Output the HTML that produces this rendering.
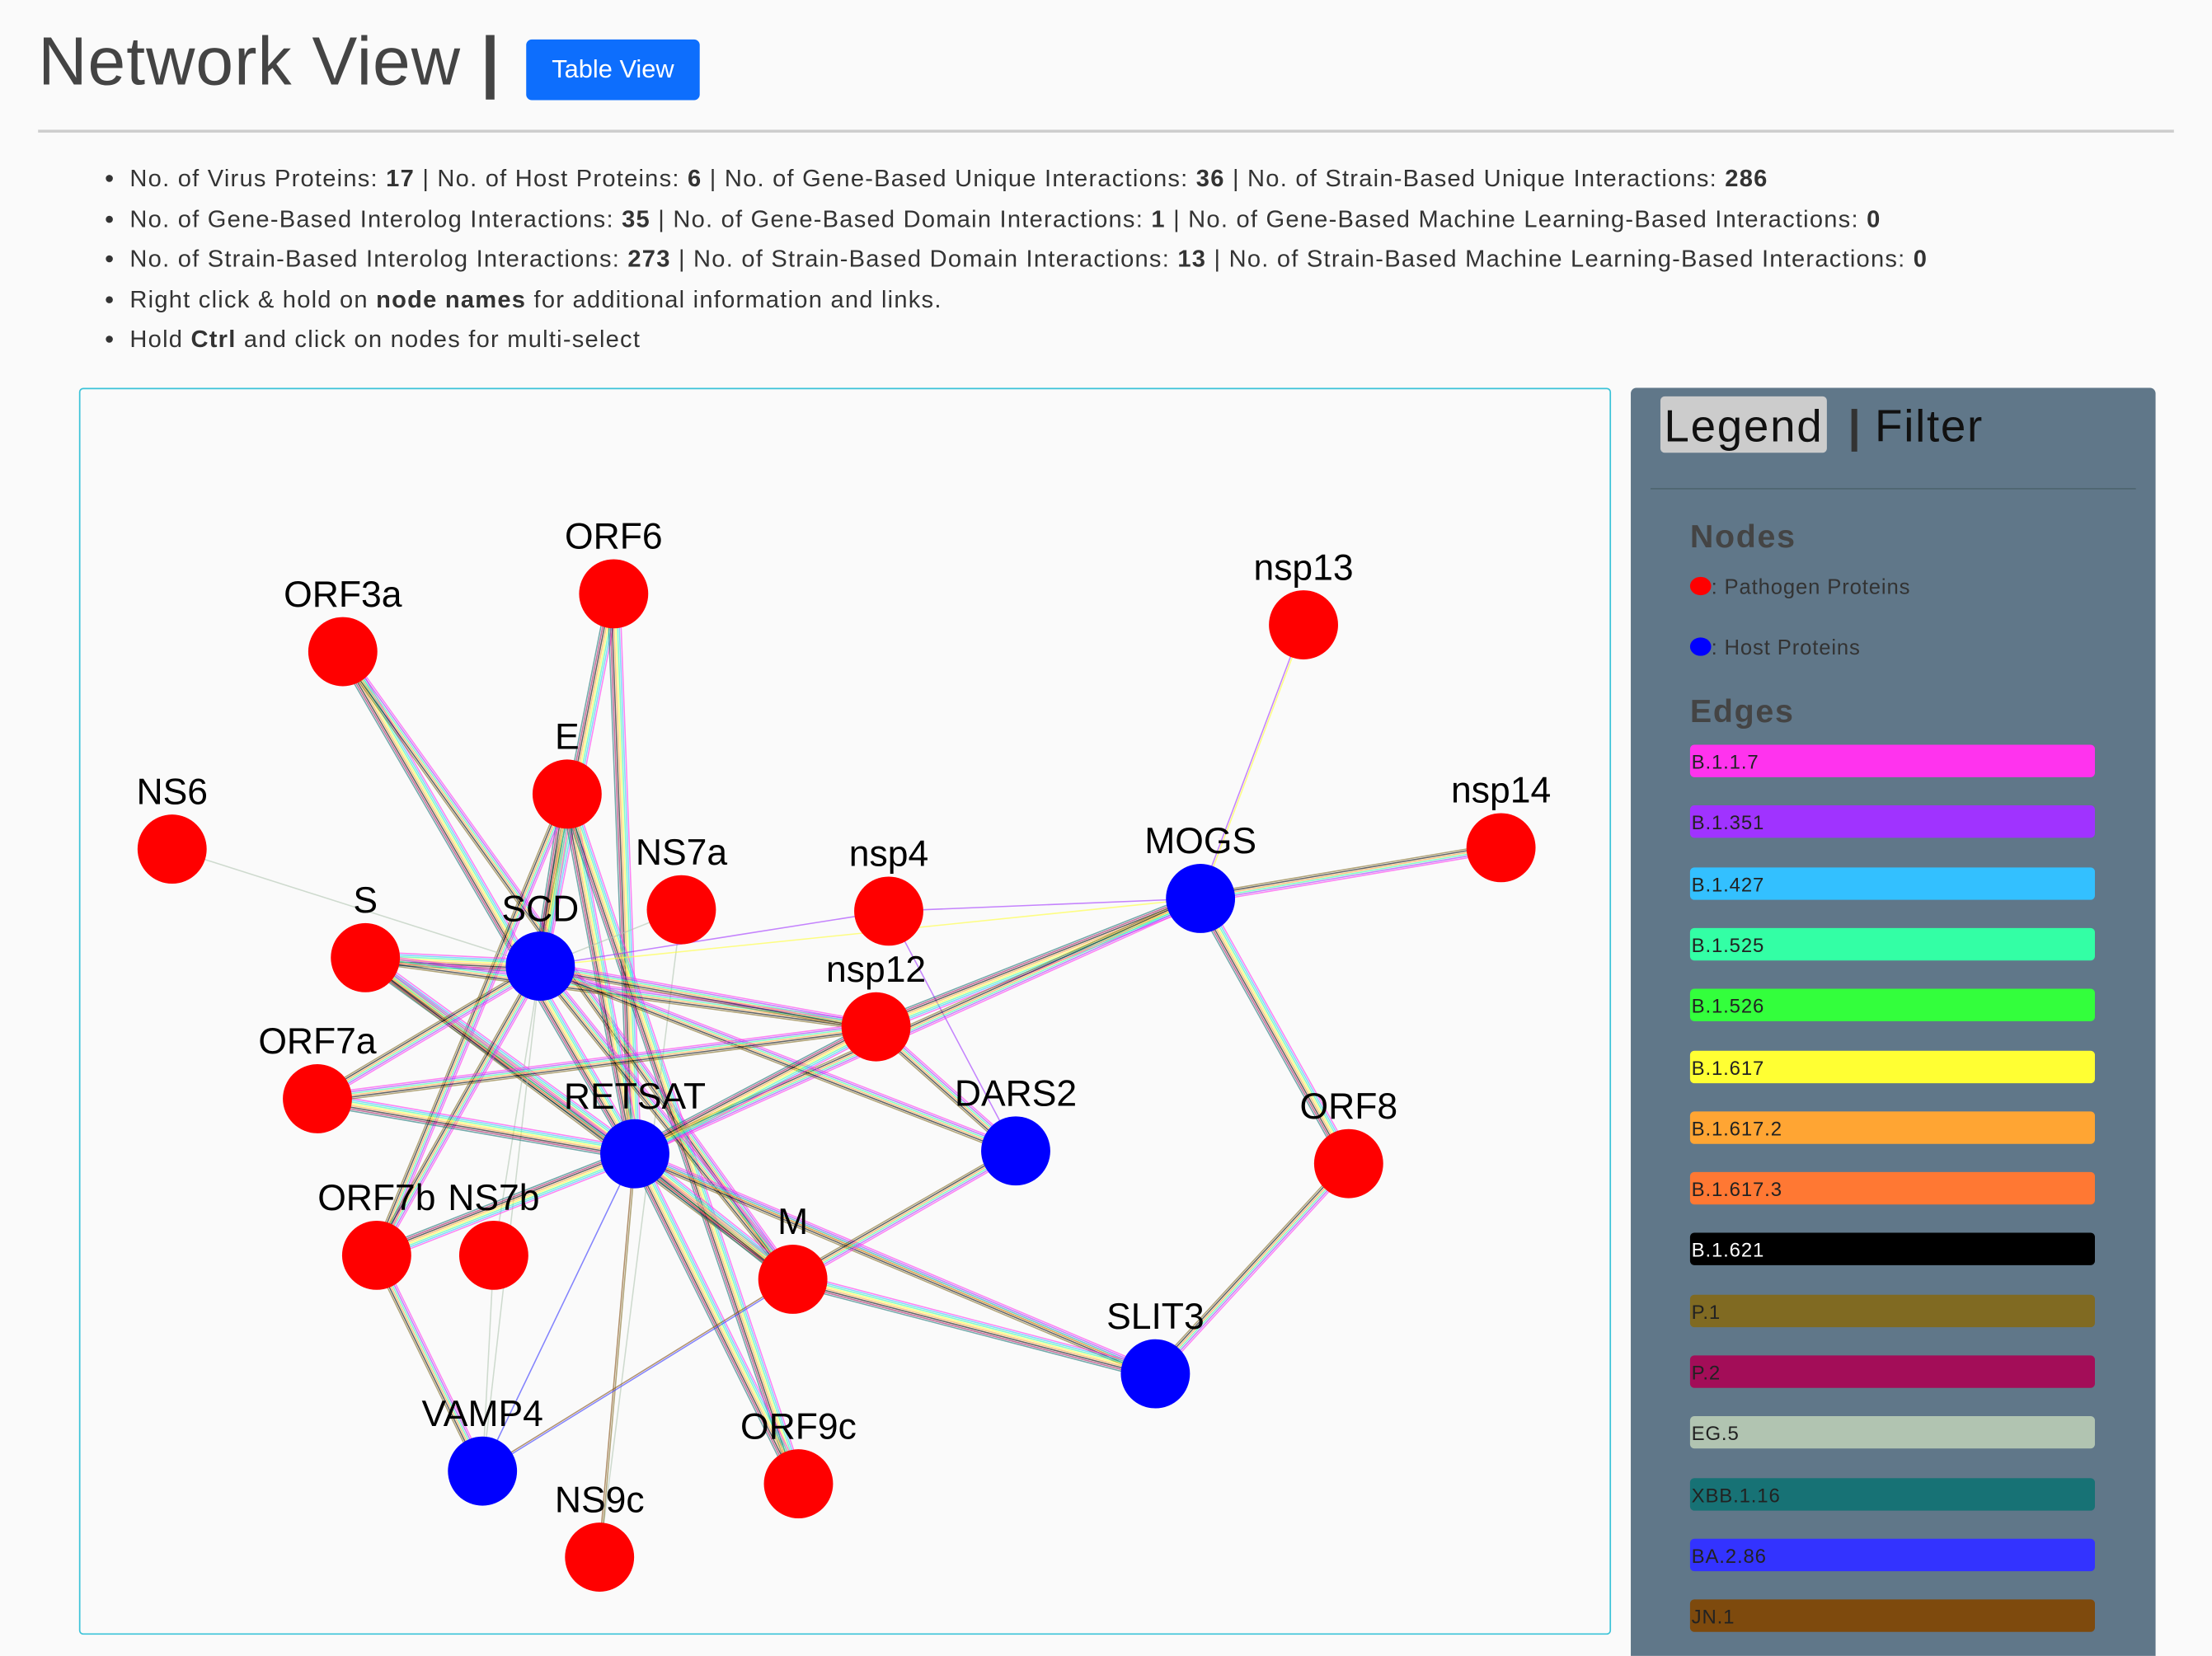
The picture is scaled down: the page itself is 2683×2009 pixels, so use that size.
<!DOCTYPE html>
<html><head><meta charset="utf-8">
<style>
html,body{margin:0;padding:0;background:#fafafa;}
body{width:2683px;height:2009px;overflow:hidden;}
#root{position:absolute;left:0;top:0;width:1568px;height:1174px;transform:scale(1.71110);transform-origin:0 0;font-family:"Liberation Sans",sans-serif;color:#333;overflow:hidden;}
.abs{position:absolute;}
h1{position:absolute;left:27px;top:17px;margin:0;font-size:48px;font-weight:500;color:#444;white-space:nowrap;letter-spacing:0.6px;}
#tbtn{left:373px;top:28px;width:123px;height:43px;background:#0d6efd;color:#fff;border-radius:4px;font-size:18px;line-height:43px;text-align:center;}
#hr{left:27px;top:92px;width:1514px;height:2px;background:#ccc;}
ul{position:absolute;left:74px;top:113px;margin:0;padding:0 0 0 18px;font-size:17px;line-height:28.6px;color:#333;white-space:nowrap;letter-spacing:0.72px;}
#graph{left:56px;top:275px;width:1084px;height:882px;border:1px solid #3bc3d8;border-radius:3px;}
#legend{left:1156px;top:275px;width:372px;height:910px;background:#607789;border-radius:4px;}
.bar{position:absolute;left:42px;width:287px;height:23px;border-radius:3px;font-size:14px;line-height:24px;color:#222;padding-left:1px;box-sizing:border-box;letter-spacing:0.5px;}
</style></head><body>
<div id="root">
<h1>Network View <span style="color:#444;font-weight:bold">|</span></h1>
<div id="tbtn" class="abs">Table View</div>
<div id="hr" class="abs"></div>
<ul>
<li>No. of Virus Proteins: <b>17</b> | No. of Host Proteins: <b>6</b> | No. of Gene-Based Unique Interactions: <b>36</b> | No. of Strain-Based Unique Interactions: <b>286</b></li>
<li>No. of Gene-Based Interolog Interactions: <b>35</b> | No. of Gene-Based Domain Interactions: <b>1</b> | No. of Gene-Based Machine Learning-Based Interactions: <b>0</b></li>
<li>No. of Strain-Based Interolog Interactions: <b>273</b> | No. of Strain-Based Domain Interactions: <b>13</b> | No. of Strain-Based Machine Learning-Based Interactions: <b>0</b></li>
<li>Right click &amp; hold on <b>node names</b> for additional information and links.</li>
<li>Hold <b>Ctrl</b> and click on nodes for multi-select</li>
</ul>
<div id="graph" class="abs"></div>
<svg id="net" class="abs" style="left:0;top:0" width="1568" height="1174"></svg>
<div id="legend" class="abs">
 <div class="abs" style="left:21px;top:6px;width:118px;height:40px;background:#ccc;border-radius:3px;font-size:32px;line-height:42px;text-align:center;color:#111;letter-spacing:1px">Legend</div>
 <div class="abs" style="left:154px;top:6px;font-size:32px;line-height:42px;color:#333;font-weight:bold">|</div>
 <div class="abs" style="left:173px;top:6px;font-size:32px;line-height:42px;color:#111;letter-spacing:1px">Filter</div>
 <div class="abs" style="left:14px;top:71px;width:344px;height:1px;background:#4f6570"></div>
 <div class="abs" style="left:42px;top:92px;font-size:23px;font-weight:bold;color:#444;letter-spacing:1px">Nodes</div>
 <div class="abs" style="left:42px;top:133px;font-size:15px;color:#333;letter-spacing:0.5px"><span style="display:inline-block;width:15px;height:13px;border-radius:50%;background:#f00;vertical-align:-1px"></span>: Pathogen Proteins</div>
 <div class="abs" style="left:42px;top:176px;font-size:15px;color:#333;letter-spacing:0.5px"><span style="display:inline-block;width:15px;height:13px;border-radius:50%;background:#00f;vertical-align:-1px"></span>: Host Proteins</div>
 <div class="abs" style="left:42px;top:216px;font-size:23px;font-weight:bold;color:#444;letter-spacing:1px">Edges</div>
 <div id="bars"></div>
</div>
</div>
<script>
const strainNames=["B.1.1.7","B.1.351","B.1.427","B.1.525","B.1.526","B.1.617","B.1.617.2","B.1.617.3","B.1.621","P.1","P.2","EG.5","XBB.1.16","BA.2.86","JN.1"];
const strainColors=["#ff33ee","#a033ff","#33c0ff","#33ffa5","#33ff3c","#ffff33","#ffa533","#ff7833","#000000","#806a22","#a30d58","#b1c4b1","#177275","#3333ff","#7e4a0d"];
const nodeNames=["ORF6","ORF3a","nsp13","E","NS6","nsp14","NS7a","nsp4","MOGS","S","SCD","nsp12","ORF7a","RETSAT","DARS2","ORF8","ORF7b","NS7b","M","SLIT3","VAMP4","ORF9c","NS9c"];
const nodeX=[435,243,924,402,122,1064,483,630,851,259,383,621,225,450,720,956,267,350,562,819,342,566,425];
const nodeY=[421,462,443,563,602,601,645,646,637,679,685,728,779,818,816,825,890,890,907,974,1043,1052,1104];
const nodeHost=[0,0,0,0,0,0,0,0,1,0,1,0,0,1,1,0,0,0,0,1,1,0,0];
const F=[0,2,3,5,6,8,10,12];
const M8=[0,1,3,6,8,9];
const edgeSrc=["ORF6","ORF6","ORF3a","ORF3a","E","E","E","E","NS6","nsp13","nsp14","NS7a","NS7a","nsp4","nsp4","nsp4","MOGS","MOGS","MOGS","MOGS","S","S","S","S","SCD","SCD","SCD","SCD","SCD","SCD","SCD","nsp12","nsp12","ORF7a","ORF7a","RETSAT","RETSAT","RETSAT","RETSAT","RETSAT","RETSAT","RETSAT","DARS2","ORF8","M","M","ORF7b","NS7b"];
const edgeTgt=["SCD","RETSAT","RETSAT","M","SCD","RETSAT","ORF7b","ORF9c","SCD","MOGS","MOGS","SCD","NS9c","SCD","MOGS","DARS2","nsp12","RETSAT","ORF8","SCD","SCD","RETSAT","M","nsp12","nsp12","DARS2","ORF7a","ORF7b","NS7b","VAMP4","M","RETSAT","DARS2","RETSAT","nsp12","ORF7b","M","SLIT3","ORF9c","NS9c","VAMP4","SLIT3","M","SLIT3","SLIT3","VAMP4","VAMP4","VAMP4"];
const edgeStrains=[F,F,F,M8,F,F,M8,F,[11],[5,1],M8,[11],[11],[1],[1],[1],F,M8,F,[5],F,F,M8,M8,M8,M8,M8,M8,[11],[11],M8,F,M8,F,M8,F,F,[1,9],F,[9,14],[13],M8,M8,M8,F,[13,14],M8,[11]];
const NS="http://www.w3.org/2000/svg";
const svg=document.getElementById('net');
const idx=n=>nodeNames.indexOf(n);
const gE=document.createElementNS(NS,'g');svg.appendChild(gE);
for(let e=0;e<edgeSrc.length;e++){
 const a=idx(edgeSrc[e]),b=idx(edgeTgt[e]);
 const x1=nodeX[a],y1=nodeY[a],x2=nodeX[b],y2=nodeY[b];
 const L=Math.hypot(x2-x1,y2-y1),px=-(y2-y1)/L,py=(x2-x1)/L;
 const s=edgeStrains[e];
 for(let k=0;k<s.length;k++){
  const o=(k-(s.length-1)/2)*1.25;
  const ln=document.createElementNS(NS,'line');
  
  
  ln.setAttribute('x1',x1+px*o);ln.setAttribute('y1',y1+py*o);
  ln.setAttribute('x2',x2+px*o);ln.setAttribute('y2',y2+py*o);
  ln.setAttribute('stroke',strainColors[s[k]]);ln.setAttribute('stroke-width','0.9');ln.setAttribute('stroke-opacity','0.6');
  gE.appendChild(ln);
 }
}
for(let i=0;i<nodeNames.length;i++){
 const c=document.createElementNS(NS,'circle');
 
 
 c.setAttribute('cx',nodeX[i]);c.setAttribute('cy',nodeY[i]);c.setAttribute('r',24.5);
 c.setAttribute('fill',nodeHost[i]?'#0000ff':'#ff0000');svg.appendChild(c);
 const t=document.createElementNS(NS,'text');
 
 
 t.setAttribute('x',nodeX[i]);t.setAttribute('y',nodeY[i]-32);t.setAttribute('text-anchor','middle');
 t.setAttribute('font-size','26');t.setAttribute('font-family','Liberation Sans, sans-serif');t.setAttribute('fill','#000');
 t.textContent=nodeNames[i];svg.appendChild(t);
}
const bars=document.getElementById('bars');
for(let i=0;i<strainNames.length;i++){
 const d=document.createElement('div');
 
 
 d.className='bar';d.style.top=(253+i*43.3)+'px';d.style.background=strainColors[i];
 if(i===8)d.style.color='#fff';
 d.textContent=strainNames[i];bars.appendChild(d);
}
</script>
</body></html>
